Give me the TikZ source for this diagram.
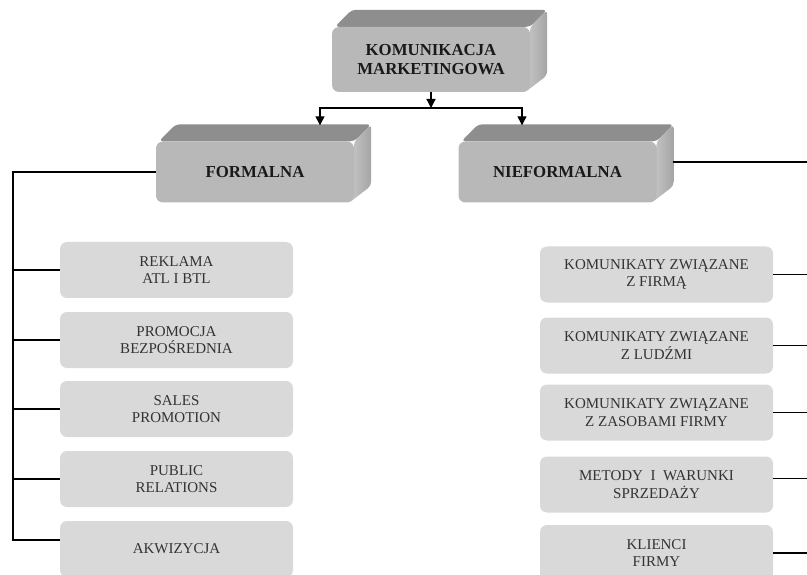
\documentclass[tikz,border=0pt]{standalone}
\usepackage{fontspec}
\setmainfont{Liberation Serif}
\usetikzlibrary{arrows.meta,backgrounds,calc}
\definecolor{frontgray}{HTML}{B8B8B8}
\definecolor{topgray}{HTML}{8E8E8E}
\definecolor{sidegray}{HTML}{A4A4A4}
\definecolor{itemgray}{HTML}{D9D9D9}
\tikzset{
  cube/.style={fill=frontgray, rounded corners=7pt, minimum width=198pt, minimum height=61pt,
    align=center, inner sep=0pt, text=black!90, font=\fontsize{16.8}{18.3}\selectfont\bfseries},
  item/.style={fill=itemgray, rounded corners=7pt, minimum width=233pt, minimum height=56pt,
    align=center, inner sep=0pt, text=black!80, font=\fontsize{15}{17.7}\selectfont},
  link/.style={line width=1.3pt},
  arr/.style={link, -{Triangle[length=9pt,width=9pt]}},
}
\begin{document}
\begin{tikzpicture}[x=1pt,y=-1pt]
    \useasboundingbox (0,0) rectangle (807,575);
    \node[cube, minimum height=65pt] (top) at (431,59.5) {KOMUNIKACJA\\MARKETINGOWA};
    \node[cube] (formalna) at (255,172) {FORMALNA};
    \node[cube] (nieformalna) at (557.5,172) {NIEFORMALNA};
    \begin{scope}[on background layer]
        \foreach \c in {top,formalna,nieformalna}{
            \fill[topgray, rounded corners=4pt] ([xshift=3pt]\c.north west) -- ++(17,-17)
                -- ($(\c.north east)+(17,-17)$) -- (\c.north east) -- cycle;
            \shade[left color=sidegray!60, right color=sidegray, rounded corners=4pt] (\c.north east)
                -- ++(17,-17) -- ($(\c.south east)+(17,-17)$) -- ([xshift=-5pt]\c.south east) -- cycle;
        }
    \end{scope}

    \node[item] (reklama) at (176.5,270) {REKLAMA\\ATL I BTL};
    \node[item] (promocja) at (176.5,340) {PROMOCJA\\BEZPOŚREDNIA};
    \node[item] (sales) at (176.5,409) {SALES\\PROMOTION};
    \node[item] (public) at (176.5,479) {PUBLIC\\RELATIONS};
    \node[item] (akwizycja) at (176.5,549) {AKWIZYCJA};

    \node[item] (firma) at (656.5,274.5) {KOMUNIKATY ZWIĄZANE\\Z FIRMĄ};
    \node[item] (ludzmi) at (656.5,345.5) {KOMUNIKATY ZWIĄZANE\\Z LUDŹMI};
    \node[item] (zasoby) at (656.5,412.5) {KOMUNIKATY ZWIĄZANE\\Z ZASOBAMI FIRMY};
    \node[item] (metody) at (656.5,484.5) {METODY\ \ I\ \ WARUNKI\\SPRZEDAŻY};
    \node[item] (klienci) at (656.5,553) {KLIENCI\\FIRMY};

    \coordinate (bus) at (431,108);
    \draw[arr] (top) -- (bus);
    \draw[arr] (bus) -| ($(formalna.north)+(65,-16)$);
    \draw[arr] (bus) -| ($(nieformalna.north)+(-35.5,-16)$);

    \coordinate (lbus) at (13,540);
    \draw[link] (formalna.west) -| (lbus) -- (lbus -| akwizycja.west);
    \foreach \n in {reklama,promocja,sales,public}
        \draw[link] (lbus |- \n.west) -- (\n.west);

    \coordinate (rbus) at (815,553);
    \coordinate (metodyend) at ($(metody.east)+(0,-6)$);
    \draw[link] ($(nieformalna.east)+(16,-10)$) -| (rbus) -- (klienci.east);
    \foreach \n in {firma,ludzmi,zasoby,metodyend}
        \draw[link] (\n) -- (rbus |- \n);
\end{tikzpicture}
\end{document}
